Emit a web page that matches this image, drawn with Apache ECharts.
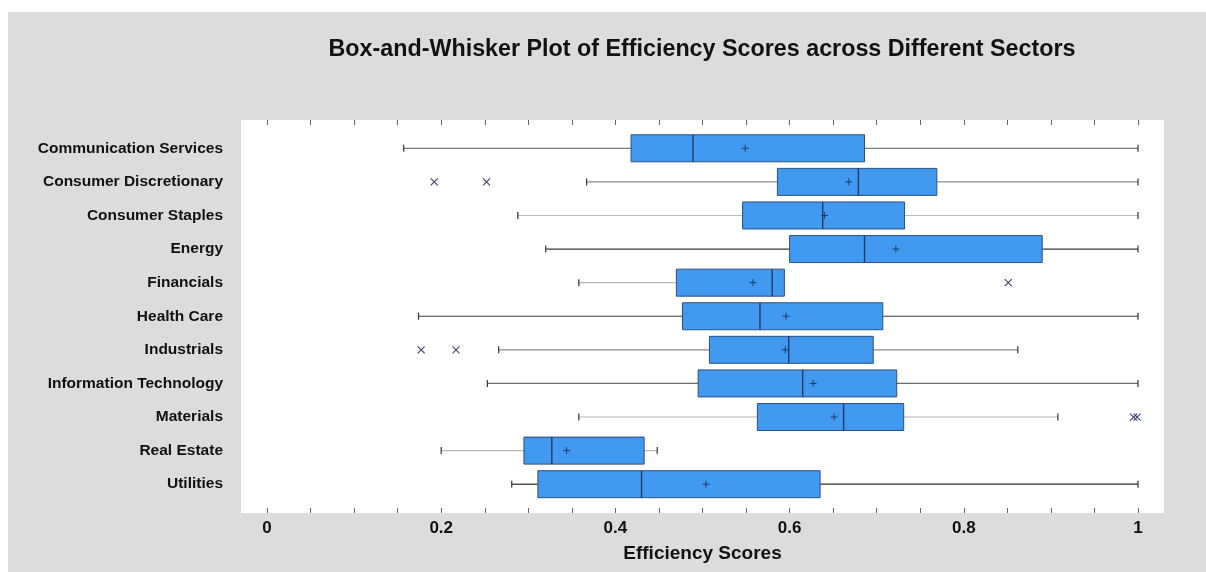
<!DOCTYPE html>
<html>
<head>
<meta charset="utf-8">
<title>Efficiency Scores by Sector</title>
<script src="https://cdn.jsdelivr.net/npm/echarts@6/dist/echarts.min.js"></script>
<style>
  html, body { margin: 0; padding: 0; background: #ffffff; }
  #chart { width: 1206px; height: 572px; }
</style>
</head>
<body>
<div id="chart"></div>
<script>
// Sectors, top to bottom
const sectors = [
  'Communication Services', 'Consumer Discretionary', 'Consumer Staples', 'Energy',
  'Financials', 'Health Care', 'Industrials', 'Information Technology',
  'Materials', 'Real Estate', 'Utilities'
];

// Five-number summaries per sector
const lowerWhisker = [0.157, 0.367, 0.288, 0.320, 0.358, 0.174, 0.266, 0.253, 0.358, 0.200, 0.281];
const quartile1    = [0.418, 0.586, 0.546, 0.600, 0.470, 0.477, 0.508, 0.495, 0.563, 0.295, 0.311];
const medians      = [0.489, 0.679, 0.638, 0.686, 0.580, 0.566, 0.599, 0.615, 0.662, 0.327, 0.430];
const quartile3    = [0.686, 0.769, 0.732, 0.890, 0.594, 0.707, 0.696, 0.723, 0.731, 0.433, 0.635];
const upperWhisker = [1.000, 1.000, 1.000, 1.000, 0.594, 1.000, 0.862, 1.000, 0.908, 0.448, 1.000];
const means        = [0.549, 0.668, 0.640, 0.722, 0.558, 0.596, 0.595, 0.627, 0.651, 0.344, 0.504];

// Outliers as [sector index, score]
const outliers = [
  [1, 0.192], [1, 0.252],
  [4, 0.851],
  [6, 0.177], [6, 0.217],
  [8, 0.995], [8, 0.999]
];

// Axis tick labels shown every 0.2
const tickLabels = ['0', '0.2', '0.4', '0.6', '0.8', '1'];

// Per-sector whisker tint
const whiskerColors = ['#7a7a7a', '#8a8a8a', '#b8b8b8', '#3a3a3a', '#b8b8b8', '#3a3a3a',
                       '#8a8a8a', '#6a6a6a', '#b0b0b0', '#b8b8b8', '#2a2a2a'];

const boxFill = '#4299f0';
const boxEdge = '#2c4f7a';
const medianColor = '#1f3a66';
const markColor = '#3a4270';
const fontFamily = 'Liberation Sans, Arial, sans-serif';

const chart = echarts.init(document.getElementById('chart'), null, { renderer: 'canvas' });

const boxData = sectors.map((s, i) => [i, lowerWhisker[i], quartile1[i], medians[i], quartile3[i], upperWhisker[i], means[i]]);

function renderBox(params, api) {
  const i = api.value(0);
  const y = api.coord([0, i])[1];
  const xLow = api.coord([api.value(1), i])[0];
  const xQ1 = api.coord([api.value(2), i])[0];
  const xMed = api.coord([api.value(3), i])[0];
  const xQ3 = api.coord([api.value(4), i])[0];
  const xHigh = api.coord([api.value(5), i])[0];
  const xMean = api.coord([api.value(6), i])[0];
  const h = 27;
  const cap = 3.5;
  const wc = whiskerColors[i];
  const children = [];
  if (xQ1 > xLow) {
    children.push({ type: 'line', shape: { x1: xLow, y1: y, x2: xQ1, y2: y }, style: { stroke: wc, lineWidth: 1.2 } });
  }
  children.push({ type: 'line', shape: { x1: xLow, y1: y - cap, x2: xLow, y2: y + cap }, style: { stroke: '#333', lineWidth: 1.2 } });
  if (xHigh > xQ3) {
    children.push({ type: 'line', shape: { x1: xQ3, y1: y, x2: xHigh, y2: y }, style: { stroke: wc, lineWidth: 1.2 } });
    children.push({ type: 'line', shape: { x1: xHigh, y1: y - cap, x2: xHigh, y2: y + cap }, style: { stroke: '#333', lineWidth: 1.2 } });
  }
  children.push({ type: 'rect', shape: { x: xQ1, y: y - h / 2, width: xQ3 - xQ1, height: h },
    style: { fill: boxFill, stroke: boxEdge, lineWidth: 1 } });
  children.push({ type: 'line', shape: { x1: xMed, y1: y - h / 2, x2: xMed, y2: y + h / 2 },
    style: { stroke: medianColor, lineWidth: 1.4 } });
  children.push({ type: 'line', shape: { x1: xMean - 3.5, y1: y, x2: xMean + 3.5, y2: y }, style: { stroke: medianColor, lineWidth: 1 } });
  children.push({ type: 'line', shape: { x1: xMean, y1: y - 3.5, x2: xMean, y2: y + 3.5 }, style: { stroke: medianColor, lineWidth: 1 } });
  return { type: 'group', children: children };
}

function renderOutlier(params, api) {
  const p = api.coord([api.value(1), api.value(0)]);
  const r = 3.5;
  return {
    type: 'group',
    children: [
      { type: 'line', shape: { x1: p[0] - r, y1: p[1] - r, x2: p[0] + r, y2: p[1] + r }, style: { stroke: markColor, lineWidth: 1.1 } },
      { type: 'line', shape: { x1: p[0] - r, y1: p[1] + r, x2: p[0] + r, y2: p[1] - r }, style: { stroke: markColor, lineWidth: 1.1 } }
    ]
  };
}

function tickLabel(v) {
  const k = Math.round(v * 100);
  if (k % 20 !== 0) return '';
  return tickLabels[k / 20];
}

const axisTick = { show: true, inside: true, length: 5, lineStyle: { color: '#666', width: 1 } };

chart.setOption({
  backgroundColor: '#dcdcdc',
  animation: false,
  title: {
    text: 'Box-and-Whisker Plot of Efficiency Scores across Different Sectors',
    left: 697,
    top: 33,
    textAlign: 'center',
    textStyle: { fontFamily: fontFamily, fontWeight: 'bold', fontSize: 23.3, color: '#111' }
  },
  graphic: [
    { type: 'rect', left: 0, top: 0, shape: { width: 1206, height: 12 }, style: { fill: '#ffffff' } },
    { type: 'rect', left: 0, top: 0, shape: { width: 8, height: 572 }, style: { fill: '#ffffff' } }
  ],
  grid: [
    { left: 241, right: 42, top: 120, bottom: 59, show: true, backgroundColor: '#ffffff', borderWidth: 0 },
    { left: 267, right: 68, top: 131.5, bottom: 71 }
  ],
  xAxis: [
    { gridIndex: 0, type: 'value', show: false, min: 0, max: 1 },
    {
      gridIndex: 1, type: 'value', min: 0, max: 1, interval: 0.05, position: 'bottom', offset: 12,
      axisLine: { show: false }, axisTick: axisTick, splitLine: { show: false },
      axisLabel: { formatter: tickLabel, margin: 7, fontFamily: fontFamily, fontWeight: 'bold', fontSize: 17, color: '#111' },
      name: 'Efficiency Scores', nameLocation: 'middle', nameGap: 31,
      nameTextStyle: { fontFamily: fontFamily, fontWeight: 'bold', fontSize: 19, color: '#111' }
    },
    {
      gridIndex: 1, type: 'value', min: 0, max: 1, interval: 0.05, position: 'top', offset: 11.5,
      axisLine: { show: false }, axisTick: axisTick, splitLine: { show: false }, axisLabel: { show: false }
    }
  ],
  yAxis: [
    { gridIndex: 0, type: 'value', show: false },
    {
      gridIndex: 1, type: 'category', data: sectors, inverse: true,
      axisLine: { show: false }, axisTick: { show: false }, splitLine: { show: false },
      axisLabel: { margin: 44, fontFamily: fontFamily, fontWeight: 'bold', fontSize: 15.5, color: '#111' }
    }
  ],
  series: [
    {
      type: 'custom', name: 'boxes', xAxisIndex: 1, yAxisIndex: 1,
      data: boxData, encode: { x: [1, 2, 3, 4, 5, 6], y: 0 },
      renderItem: renderBox, clip: false
    },
    {
      type: 'custom', name: 'outliers', xAxisIndex: 1, yAxisIndex: 1,
      data: outliers, encode: { x: 1, y: 0 },
      renderItem: renderOutlier, clip: false
    }
  ]
});
</script>
</body>
</html>
